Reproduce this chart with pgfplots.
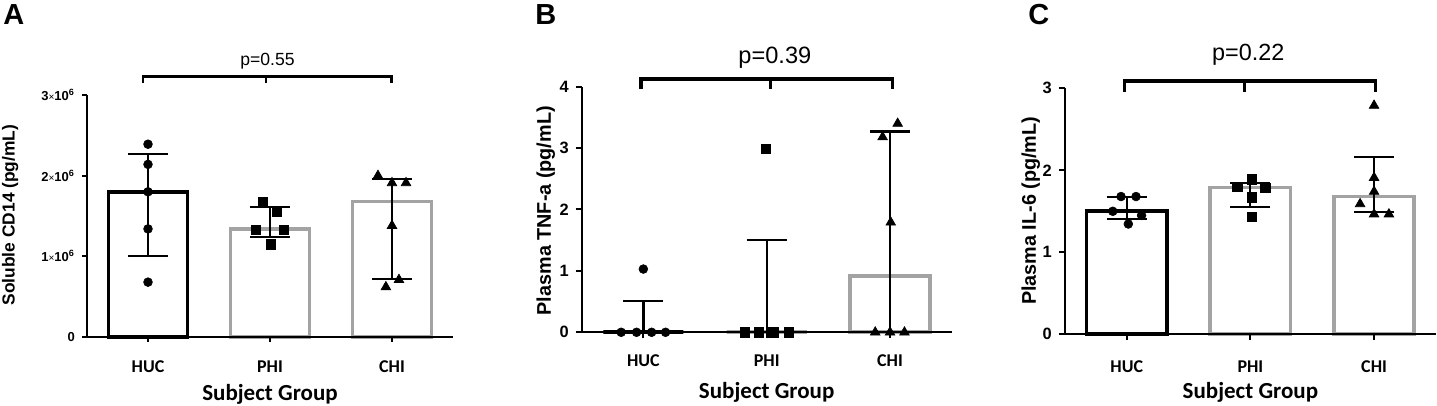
\documentclass[border=0pt]{standalone}
\usepackage{fontspec}
\setmainfont{Liberation Sans}
\newfontfamily\calibri{Carlito}
\usepackage{pgfplots}
\pgfplotsset{compat=1.18}
\definecolor{bargray}{RGB}{163,163,163}
\pgfplotsset{
  myaxis/.style={
    scale only axis, anchor=south west, clip=false, axis on top,
    xmin=-0.5, xmax=2.5, ymin=0,
    axis x line*=bottom, axis y line*=left,
    axis line style={black, line width=1pt, -},
    tick align=outside, major tick length=2.8pt,
    tick style={black, line width=1pt},
    xtick={0,1,2}, xticklabels={HUC,PHI,CHI},
    xticklabel style={font=\calibri\bfseries\fontsize{9}{10}\selectfont, anchor=base, yshift=-14pt},
    yticklabel style={font=\bfseries\fontsize{8.2}{9}\selectfont},
    xlabel={Subject Group},
    xlabel style={font=\calibri\bfseries\fontsize{11.5}{13}\selectfont, at={(axis description cs:0.5,0)}, anchor=base, yshift=-32pt},
    ylabel style={font=\bfseries\fontsize{9.9}{11}\selectfont, anchor=base},
    scaled y ticks=false,
    /pgf/number format/assume math mode=true,
  },
  bk/.style={ybar, bar width=0.65, bar shift=0pt, draw=black, fill=white, line width=1.8pt},
  gr/.style={ybar, bar width=0.65, bar shift=0pt, draw=bargray, fill=white, line width=1.8pt},
  eb/.style={draw=none, mark=none, error bars/.cd, y dir=both, y explicit,
    error bar style={line width=#1, draw=black, solid},
    error mark options={draw=black, line width=#1, mark size=10pt, rotate=90}},
  circ/.style={only marks, mark=*, mark size=2.2pt, black, mark options={line width=0.3pt}},
  sq/.style={only marks, mark=square*, mark size=2.35pt, black, mark options={line width=0.3pt}},
  tri/.style={only marks, mark=triangle*, mark size=2.8pt, black, mark options={line width=0.3pt}},
}
\begin{document}
\begin{tikzpicture}
\path[use as bounding box] (0,0) rectangle (718.5pt,203pt);
\node[anchor=base west, inner sep=0pt, font=\bfseries\fontsize{14.5}{16}\selectfont] at (1.5pt,190.5pt) {A};
\node[anchor=base west, inner sep=0pt, font=\bfseries\fontsize{14.5}{16}\selectfont] at (267.5pt,190.5pt) {B};
\node[anchor=base west, inner sep=0pt, font=\bfseries\fontsize{14.5}{16}\selectfont] at (514pt,190.5pt) {C};

% ---------------- A ----------------
\begin{axis}[myaxis, at={(43.5pt,34.5pt)}, width=183pt, height=121pt,
  ymax=3e6, ytick={0,1e6,2e6,3e6},
  yticklabels={0, 1{\fontsize{5}{6}\selectfont\mdseries ×}10\textsuperscript{6}, 2{\fontsize{5}{6}\selectfont\mdseries ×}10\textsuperscript{6}, 3{\fontsize{5}{6}\selectfont\mdseries ×}10\textsuperscript{6}},
  yticklabel style={font=\bfseries\fontsize{6.5}{7}\selectfont},
  major tick length=2.5pt,
  xticklabel style={yshift=-1.5pt},
  ylabel={Soluble CD14 (pg/mL)},
  ylabel style={font=\bfseries\fontsize{8.7}{10}\selectfont, at={(axis description cs:-0.1975,0.504)}},
]
\addplot[bk] coordinates {(0,1.80e6)};
\addplot[gr] coordinates {(1,1.34e6) (2,1.68e6)};
\addplot[eb=1pt] coordinates {(0,1.80e6) += (0,0.47e6) -= (0,0.80e6)};
\addplot[eb=1pt] coordinates {(1,1.34e6) += (0,0.27e6) -= (0,0.10e6)};
\addplot[eb=1pt] coordinates {(2,1.68e6) += (0,0.28e6) -= (0,0.96e6)};
\addplot[circ] coordinates {(0,2.39e6) (0,2.14e6) (0,1.80e6) (0,1.34e6) (0,0.68e6)};
\addplot[sq] coordinates {(0.943,1.67e6) (1.057,1.55e6) (0.885,1.33e6) (1.115,1.33e6) (1.008,1.15e6)};
\addplot[tri] coordinates {(1.885,2.00e6) (2.0,1.91e6) (2.115,1.91e6) (2.0,1.38e6) (1.95,0.62e6) (2.057,0.71e6)};
\addplot[black, line width=1.15pt, mark=none] coordinates {(-0.043,3.15e6) (-0.043,3.23e6) (1.997,3.23e6) (1.997,3.15e6)};
\addplot[black, line width=1.15pt, mark=none] coordinates {(0.965,3.23e6) (0.965,3.15e6)};
\node[anchor=base, font=\fontsize{8.8}{10}\selectfont] at (axis cs:0.98,3.37e6) {p=0.55};
\end{axis}

% ---------------- B ----------------
\begin{axis}[myaxis, at={(290.85pt,36.85pt)}, width=185pt, height=122.8pt,
  ymax=4, ytick={0,1,2,3,4}, yticklabels={0,1,2,3,4},
  axis line style={line width=1.2pt}, major tick length=3pt,
  ylabel={Plasma TNF-a (pg/mL)},
  ylabel style={at={(axis description cs:-0.083,0.495)}},
  xlabel style={yshift=-1pt},
]
\addplot[bk] coordinates {(0,0)};
\addplot[gr] coordinates {(1,0) (2,0.92)};
\addplot[eb=1.2pt] coordinates {(0,0) += (0,0.51) -= (0,0)};
\addplot[eb=1.2pt] coordinates {(1,0) += (0,1.50) -= (0,0)};
\addplot[eb=1.2pt] coordinates {(2,0.92) += (0,2.35) -= (0,0.92)};
\addplot[circ] coordinates {(-0.18,0) (-0.055,0) (0.067,0) (0.18,0) (0,1.03)};
\addplot[sq] coordinates {(0.82,0) (0.935,0) (1.054,0) (1.178,0) (0.995,2.99)};
\addplot[tri] coordinates {(1.88,0) (2.0,0) (2.117,0) (1.94,3.18) (2.062,3.40) (2.006,1.79)};
\addplot[black, line width=1.65pt, mark=none] coordinates {(-0.02,3.96) (-0.02,4.125) (2.02,4.125) (2.02,3.96)};
\addplot[black, line width=1.65pt, mark=none] coordinates {(1.03,4.125) (1.03,3.96)};
\node[anchor=base, font=\fontsize{11.8}{13}\selectfont] at (axis cs:1.066,4.38) {p=0.39};
\end{axis}

% ---------------- C ----------------
\begin{axis}[myaxis, at={(532.45pt,35.85pt)}, width=185.5pt, height=123pt,
  ymax=3, ytick={0,1,2,3}, yticklabels={0,1,2,3},
  axis line style={line width=1.2pt}, major tick length=3pt,
  ylabel={Plasma IL-6 (pg/mL)},
  ylabel style={at={(axis description cs:-0.078,0.502)}},
  xticklabel style={yshift=-2pt},
]
\addplot[bk] coordinates {(0,1.50)};
\addplot[gr] coordinates {(1,1.79) (2,1.68)};
\addplot[eb=1pt] coordinates {(0,1.50) += (0,0.17) -= (0,0.09)};
\addplot[eb=1pt] coordinates {(1,1.79) += (0,0.06) -= (0,0.24)};
\addplot[eb=1pt] coordinates {(2,1.68) += (0,0.48) -= (0,0.19)};
\addplot[circ] coordinates {(-0.046,1.68) (0.075,1.68) (-0.113,1.50) (0.12,1.45) (0.013,1.345)};
\addplot[sq] coordinates {(0.893,1.80) (1.01,1.89) (1.12,1.79) (1.01,1.67) (1.01,1.43)};
\addplot[tri] coordinates {(2.0,2.79) (2.0,1.91) (2.0,1.74) (1.887,1.59) (2.0,1.465) (2.12,1.465)};
\addplot[black, line width=1.65pt, mark=none] coordinates {(-0.02,2.96) (-0.02,3.09) (2.01,3.09) (2.01,2.96)};
\addplot[black, line width=1.65pt, mark=none] coordinates {(0.95,3.09) (0.95,2.96)};
\node[anchor=base, font=\fontsize{11.7}{13}\selectfont] at (axis cs:0.983,3.345) {p=0.22};
\end{axis}
\end{tikzpicture}
\end{document}
